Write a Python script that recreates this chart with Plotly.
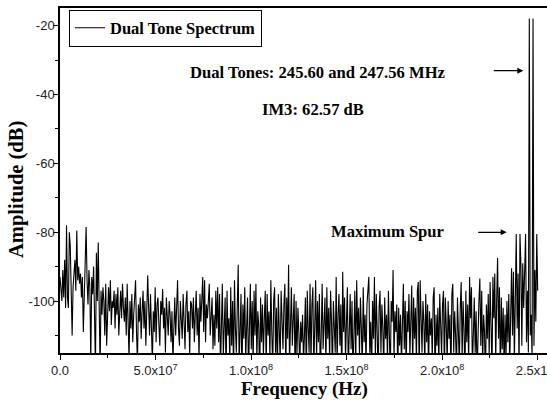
import numpy as np
import plotly.graph_objects as go

# FFT bin spacing (fs = 500 MHz, N = 1024) -> bins 0..512 cover 0..250 MHz
bin_hz = 500e6 / 1024

series_name = "Dual Tone Spectrum"
amplitude_db = [
    -93, -97, -100, -91, -99, -88, -102, -78, -99, -102,
    -80, -84, -95, -110, -96, -93, -88, -97, -79.5, -94,
    -90, -95, -92, -99, -93, -109, -97, -92, -78.5, -94,
    -101, -91, -96, -118, -93, -98, -90, -104, -120, -86,
    -100, -83, -101, -120, -97, -104, -96, -100, -110, -95,
    -113, -99, -96, -103, -94, -107, -100, -102, -97, -108,
    -98, -104, -96, -110, -101, -97, -105, -95, -102, -106,
    -99, -110, -95, -103, -117, -100, -108, -98, -112, -104,
    -97, -94, -109, -118, -101, -106, -99, -111, -103, -97,
    -108, -100, -113, -104, -92.5, -102, -110, -98, -105, -118,
    -103, -109, -96, -112, -101, -99, -107, -113, -100, -104,
    -96.5, -108, -102, -115, -99, -106, -110, -100, -104, -112,
    -103, -118, -107, -99, -110, -102, -94, -108, -113, -100,
    -105, -111, -98, -106, -114, -101, -97, -109, -103, -116,
    -100, -101, -108, -99, -112, -104, -97, -110, -102, -117,
    -98, -106, -100, -93, -109, -94, -112, -101, -105, -98,
    -95, -110, -103, -99, -114, -104, -113, -97, -108, -96,
    -112, -98, -120, -101, -95, -116, -104, -99, -123, -97,
    -110, -105, -118, -96, -113, -100, -121, -94, -108, -115,
    -102, -89.5, -119, -106, -98, -124, -101, -111, -96, -117,
    -104, -99, -122, -108, -95, -114, -100, -119, -97, -110,
    -95, -118, -103, -107, -125, -99, -112, -101, -116, -105,
    -97, -121, -98, -110, -103, -117, -94, -109, -120, -100,
    -96, -115, -102, -123, -98, -108, -118, -97, -106, -114,
    -101, -95, -122, -99, -111, -89.5, -119, -104, -96, -113,
    -107, -98, -124, -100, -116, -102, -109, -120, -106, -112,
    -104, -118, -110, -99, -123, -97, -108, -115, -95, -119,
    -101, -96, -121, -105, -94, -117, -100, -112, -98, -124,
    -103, -95, -114, -108, -99, -120, -96, -111, -102, -118,
    -97, -106, -122, -100, -110, -115, -93, -119, -104, -98,
    -113, -101, -125, -91.5, -109, -99, -117, -103, -96, -121,
    -105, -98, -114, -100, -123, -107, -97, -118, -94, -110,
    -102, -116, -99, -108, -120, -96, -112, -104, -119, -101,
    -95, -93, -115, -106, -122, -100, -111, -93, -117, -98,
    -109, -124, -102, -97, -115, -101, -108, -120, -99, -111,
    -104, -118, -97, -110, -122, -100, -106, -91, -117, -103,
    -109, -101, -124, -102, -113, -104, -119, -107, -95, -114,
    -100, -121, -103, -109, -98, -116, -105, -95.5, -120, -99,
    -111, -102, -118, -97, -94.5, -123, -94, -108, -115, -100,
    -106, -119, -98, -112, -101, -121, -103, -110, -105, -117,
    -99, -96, -125, -104, -113, -102, -120, -98, -109, -116,
    -101, -97, -122, -99, -107, -118, -100, -111, -104, -124,
    -98, -95, -115, -103, -110, -121, -99, -106, -119, -102,
    -94.5, -117, -100, -108, -123, -97, -112, -101, -118, -93,
    -105, -96, -120, -110, -99, -115, -103, -122, -107, -100,
    -93.5, -113, -97, -119, -104, -109, -124, -101, -111, -98,
    -116, -94.5, -107, -121, -93, -105, -92, -118, -100, -87.5,
    -111, -96, -123, -99, -114, -102, -120, -104, -117, -100,
    -112, -98, -119, -106, -90.5, -110, -91.5, -118, -96, -80.5,
    -108, -92, -121, -80.5, -89.5, -113, -89, -102, -91.5, -80.5,
    -112, -97, -115, -17.9, -110, -104, -117, -17.9, -113, -91,
    -106, -80.5, -97,
]

x_tick_vals = [0, 5e7, 1e8, 1.5e8, 2e8, 2.5e8]
x_tick_text = ["0.0", "5.0x10<sup>7</sup>", "1.0x10<sup>8</sup>",
               "1.5x10<sup>8</sup>", "2.0x10<sup>8</sup>", "2.5x10<sup>8</sup>"]
y_tick_vals = [-20, -40, -60, -80, -100]
y_tick_text = ["-20", "-40", "-60", "-80", "-100"]

x_title = "Frequency (Hz)"
y_title = "Amplitude (dB)"
tones_label = "Dual Tones: 245.60 and 247.56 MHz"
im3_label = "IM3: 62.57 dB"
spur_label = "Maximum Spur"

freq_hz = np.arange(len(amplitude_db)) * bin_hz

serif = "Liberation Serif, Times New Roman, serif"
sans = "Liberation Sans, Arial, sans-serif"

fig = go.Figure()
fig.add_trace(go.Scatter(
    x=freq_hz, y=amplitude_db, mode="lines", name=series_name,
    line=dict(color="black", width=1.1), showlegend=True,
))

W, H = 547, 401
ml, mr, mt, mb = 60, 0, 8, 48
pw, ph = W - ml - mr, H - mt - mb


def px(xp):
    return (xp - ml) / pw


def py(yp):
    return (H - mb - yp) / ph


x_max = 2.5e8 * pw / (537.7 - ml)

fig.update_layout(
    width=W, height=H,
    margin=dict(l=ml, r=mr, t=mt, b=mb, pad=0, autoexpand=False),
    paper_bgcolor="white", plot_bgcolor="white",
    showlegend=True,
    legend=dict(
        x=px(69), y=py(28), xanchor="left", yanchor="middle",
        bordercolor="black", borderwidth=1, bgcolor="white",
        font=dict(family=serif, size=16.5, color="black", weight="bold"),
        itemwidth=30,
    ),
    xaxis=dict(
        range=[0, x_max], showgrid=False, zeroline=False, automargin=False,
        showline=True, linecolor="black", linewidth=1.5, mirror=True,
        ticks="outside", ticklen=5, tickwidth=1.2, tickcolor="black",
        tickvals=x_tick_vals, ticktext=x_tick_text,
        ticklabeloverflow="allow",
        tickfont=dict(family=sans, size=13, color="#222"),
        minor=dict(dtick=2.5e7, tick0=0, ticks="outside", ticklen=3,
                   tickwidth=1.2, tickcolor="black"),
    ),
    yaxis=dict(
        range=[-115.11, -14.86], showgrid=False, zeroline=False,
        automargin=False,
        showline=True, linecolor="black", linewidth=1.5, mirror=False,
        ticks="outside", ticklen=5, tickwidth=1.2, tickcolor="black",
        tickvals=y_tick_vals, ticktext=y_tick_text,
        tickfont=dict(family=sans, size=13, color="#222"),
        ticklabelstandoff=-4,
        minor=dict(tickvals=[-30, -50, -70, -90, -110], ticks="outside",
                   ticklen=3, tickwidth=1.2, tickcolor="black"),
    ),
)

txt_font = dict(family=serif, size=16.6, color="black", weight="bold")
annotations = [
    dict(text=tones_label, x=px(317.5), y=py(72), xref="paper", yref="paper",
         showarrow=False, font=txt_font, xanchor="center", yanchor="middle"),
    dict(text=im3_label, x=px(313.3), y=py(109.5), xref="paper", yref="paper",
         showarrow=False, font=txt_font, xanchor="center", yanchor="middle"),
    dict(text=spur_label, x=px(388), y=py(231.5), xref="paper", yref="paper",
         showarrow=False, font=txt_font, xanchor="center", yanchor="middle"),
    # arrows
    dict(text="", x=px(523.3), y=py(70.7), xref="paper", yref="paper",
         showarrow=True, ax=-31, ay=0, arrowhead=2, arrowsize=1,
         arrowwidth=1.2, arrowcolor="black"),
    dict(text="", x=px(506.7), y=py(232.3), xref="paper", yref="paper",
         showarrow=True, ax=-30, ay=0, arrowhead=2, arrowsize=1,
         arrowwidth=1.2, arrowcolor="black"),
    # axis titles
    dict(text=x_title, x=px(304), y=py(389), xref="paper", yref="paper",
         showarrow=False, xanchor="center", yanchor="middle",
         font=dict(family=serif, size=19, color="black", weight="bold")),
    dict(text=y_title, x=px(16), y=py(190), xref="paper", yref="paper",
         showarrow=False, xanchor="center", yanchor="middle", textangle=-90,
         font=dict(family=serif, size=20.5, color="black", weight="bold")),
]
fig.update_layout(annotations=annotations)

fig.write_html(
    "out.html",
    config={"displayModeBar": False},
    post_script="document.body.style.margin='0px';"
                "document.body.style.overflow='hidden';",
)
